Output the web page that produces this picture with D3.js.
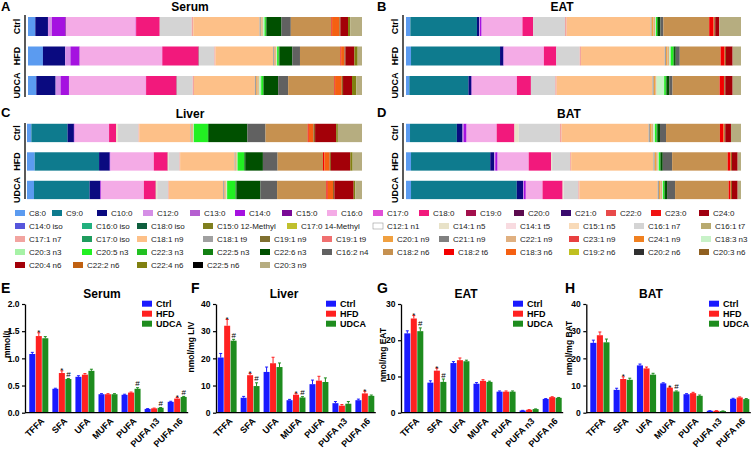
<!DOCTYPE html>
<html><head><meta charset="utf-8">
<script src="https://cdn.jsdelivr.net/npm/d3@7"></script>
<style>body{margin:0;background:#fff}svg{display:block}text{font-family:Arial,"Liberation Sans",sans-serif}</style>
</head><body><svg id="c" width="752" height="449"></svg>
<script>
// ---------------- DATA ----------------
const groups = ["Ctrl", "HFD", "UDCA"];
const faNames = [
 "C8:0","C9:0","C10:0","C12:0","C13:0","C14:0","C15:0","C16:0","C17:0","C18:0","C19:0","C20:0","C21:0","C22:0","C23:0","C24:0",
 "C14:0 iso","C16:0 iso","C18:0 iso","C15:0 12-Methyl","C17:0 14-Methyl","C12:1 n1","C14:1 n5","C14:1 t5","C15:1 n5","C16:1 n7","C16:1 t7",
 "C17:1 n7","C17:0 iso","C18:1 n9","C18:1 t9","C19:1 n9","C19:1 t9","C20:1 n9","C21:1 n9","C22:1 n9","C23:1 n9","C24:1 n9","C18:3 n3",
 "C20:3 n3","C20:5 n3","C22:3 n3","C22:5 n3","C22:6 n3","C16:2 n4","C18:2 n6","C18:2 t6","C18:3 n6","C19:2 n6","C20:2 n6","C20:3 n6",
 "C20:4 n6","C22:2 n6","C22:4 n6","C22:5 n6","C20:3 n9"
];
const faColors = [
 "#5b9bf0","#0e7b8e","#0a0a80","#d58fe6","#b55fd0","#a512e0","#7a0a96","#f4abe6","#e14fd6","#f2197c","#a3104c","#5c0b4e","#3a0b6e","#e84a4a","#f01212","#a00010",
 "#5656dc","#22b07e","#0f5f3e","#7f7f1e","#c0c02e","#ffffff","#e8e2c8","#f8dbe0","#f8dab8","#d4d4d4","#b8aa70",
 "#f2a4a0","#1f9c5e","#fdc088","#a0a0a0","#807030","#f07070","#f0a040","#808080","#e0b080","#e84040","#f08020","#c8f2c8",
 "#a6f2a6","#22f022","#22c022","#128012","#005000","#616161","#c69150","#f40000","#f56012","#c0c020","#303030","#906020",
 "#a30008","#c06010","#808010","#000000","#b6ad80"
];
// composition (% of total fatty acids), order = faNames
const compSerumCtrl = [2.2,0,3.8,1.2,0,4.0,0.2,20.9,0.2,7.1,0,0,0,0,0,0, 0,0,0,0,0,0,0,0,0,9.6,0, 0.5,0,19.9,0.4,0,0,0.2,0,0.4,0,0,0.5, 0,0.4,0,0.2,4.5,2.8,12.2,0.2,2.2,0,0,0.3, 2.3,0,0.7,0,3.5];
const compSerumHfd  = [4.5,0,6.7,1.6,0,2.7,0.1,24.8,0.1,10.8,0.2,0,0,0,0,0, 0,0,0,0,0,0,0,0,0,4.7,0, 0.3,0,17.4,0.4,0,0,0.2,0,0.4,0,0,0.2, 0,0.5,0,0.2,3.9,2.3,12.2,0.2,1.0,0,0,0.3, 2.7,0,1.0,0,1.3];
const compSerumUdca = [2.5,0,5.8,1.5,0,2.5,0.1,23.0,0.1,9.0,0.2,0,0,0,0,0, 0,0,0,0,0,0,0,0,0,4.8,0, 0.4,0,18.3,0.4,0,0,0.3,0,0.5,0,0,0.4, 0.3,0.6,0,0.2,4.3,3.0,13.9,0.2,2.0,0,0,0.4, 2.7,0,1.3,0,1.7];
const compEatCtrl   = [1.3,19.9,0.7,0.2,0,0.5,0,12.2,0,3.2,0,0,0,0,0,0, 0,0,0,0,0,0,0,0,0,9.5,0, 0.5,0,25.1,0.3,0,0,0.5,0,0.5,0,0,0.3, 0,0.3,0,0.2,0.8,0.9,13.7,1.3,0.2,0,0,0.3, 1.2,0,0,0,6.5];
const compEatHfd    = [1.5,26.6,1.0,0,0,0.1,0,12.0,0,3.7,0,0,0,0,0,0, 0,0,0,0,0,0,0,0,0,7.0,0, 0.4,0,25.0,0.4,0,0,0.4,0,0.5,0,0,0.5, 0,0.8,0,0.2,0.5,1.2,12.2,1.2,0.1,0,0,0.3, 2.0,0,0,0,2.5];
const compEatUdca   = [1.0,17.7,0.9,0,0,0.1,0,13.5,0,4.2,0,0,0,0,0,0, 0,0,0,0,0,0,0,0,0,7.3,0, 0.4,0,28.7,0.4,0,0,0.4,0,0.4,0,0,2.3, 0,0.5,0,0.2,0.8,1.0,14.1,1.3,0.1,0,0,0.3, 2.2,0,0,0,2.5];
const compLiverCtrl = [1.3,10.8,1.9,0,0,0.2,0,10.3,0,2.1,0,0,0,0,0,0, 0,0,0,0,0,0,0.5,0,0,6.2,0, 0.2,0,15.3,0.3,0,0,0.2,0,0.3,0,0,0.2, 0,4.2,0,0.3,11.5,5.4,12.6,0.3,1.4,0,0,0.5, 6.3,0,0.5,0,7.2];
const compLiverHfd  = [2.3,19.3,3.2,0,0,0.2,0,13.0,0,4.1,0.1,0,0,0,0,0, 0,0,0,0,0,0,0.3,0,0,3.2,0, 0.2,0,16.3,0.3,0,0,0.2,0,0.2,0,0,0.2, 0,2.0,0,0.3,5.3,4.4,13.6,0.4,1.6,0,0,0.4, 5.8,0,0.7,0,2.8];
const compLiverUdca = [2.1,16.7,3.2,0,0,0.2,0,12.9,0,3.5,0.1,0,0,0,0,0, 0,0,0,0,0,0,0.4,0,0,3.3,0, 0.2,0,16.3,0.4,0,0,0.3,0,0.3,0,0,0.2, 0,2.5,0,0.3,7.2,5.0,14.8,0.4,1.6,0,0,0.4, 5.8,0,0.5,0,2.0];
const compBatCtrl   = [1.2,14.0,1.7,0.3,0,0.9,0,9.0,0,5.3,0,0,0,0,0,0, 0,0,0,0,0,0,1.3,0,0,12.3,0, 0.5,0,26.0,0.4,0,0,0.5,0,0.5,0,0,0.5, 0,0.5,0,0.2,0.8,1.8,16.1,1.0,0.3,0,0,0.3, 1.7,0,0,0,3.0];
const compBatHfd    = [1.5,23.7,1.2,0.3,0,0.7,0,9.3,0,6.7,0,0,0,0,0,0, 0,0,0,0,0,0,0.3,0,0,5.4,0, 0.3,0,24.6,0.4,0,0,0.4,0,0.5,0,0,0.3, 0,0.4,0,0.2,0.6,2.8,16.6,0.8,0.2,0,0,0.3, 1.7,0,0,0,1.0];
const compBatUdca   = [1.5,31.6,1.9,0.2,0,0.6,0,5.0,0,6.0,0,0,0,0,0,0, 0,0,0,0,0,0,0.3,0,0,4.4,0, 0.3,0,23.4,0.4,0,0,0.4,0,0.5,0,0,0.3, 0,0.4,0,0.2,0.6,2.4,16.0,0.5,0.2,0,0,0.3, 1.7,0,0,0,1.0];

// concentrations by class
const classes = ["TFFA","SFA","UFA","MUFA","PUFA","PUFA n3","PUFA n6"];
const serumCtrl = [1.08,0.44,0.66,0.34,0.33,0.07,0.20];
const serumHfd  = [1.41,0.73,0.70,0.34,0.37,0.08,0.26];
const serumUdca = [1.37,0.62,0.77,0.34,0.44,0.09,0.29];
const serumCtrlErr = [0.03,0.01,0.02,0.01,0.01,0.005,0.01];
const serumHfdErr  = [0.06,0.04,0.02,0.01,0.01,0.005,0.02];
const serumUdcaErr = [0.03,0.01,0.03,0.01,0.02,0.005,0.01];
const serumHfdSig  = ["*","*","","","","","*"];
const serumUdcaSig = ["","#","","","#","#","#"];

const liverCtrl = [20.3,5.5,15.0,4.6,10.5,3.5,4.6];
const liverHfd  = [32.0,13.8,18.2,6.6,11.8,2.6,7.1];
const liverUdca = [26.5,9.8,16.8,5.6,11.3,3.3,6.2];
const liverCtrlErr = [1.5,0.5,1.8,0.3,1.5,0.6,0.4];
const liverHfdErr  = [2.3,0.6,2.2,0.4,1.6,0.4,0.8];
const liverUdcaErr = [0.5,1.2,1.5,0.3,1.5,0.8,0.3];
const liverHfdSig  = ["*","*","","*","","","*"];
const liverUdcaSig = ["#","#","","#","","",""];

const eatCtrl = [21.9,8.3,13.7,8.0,5.8,0.6,3.8];
const eatHfd  = [26.0,11.6,14.5,8.8,5.8,0.8,4.3];
const eatUdca = [22.5,8.5,14.2,8.5,5.8,1.0,4.1];
const eatCtrlErr = [0.7,0.5,0.4,0.3,0.2,0.05,0.1];
const eatHfdErr  = [0.8,0.7,0.6,0.3,0.2,0.05,0.1];
const eatUdcaErr = [0.9,0.8,0.3,0.2,0.2,0.05,0.1];
const eatHfdSig  = ["*","*","","","","",""];
const eatUdcaSig = ["#","#","","","","",""];

const batCtrl = [25.7,8.4,17.4,10.8,6.8,0.7,5.1];
const batHfd  = [28.5,12.4,16.3,9.2,7.2,0.7,5.6];
const batUdca = [25.9,12.1,14.0,7.8,6.2,0.6,5.0];
const batCtrlErr = [1.0,0.6,0.5,0.2,0.2,0.05,0.2];
const batHfdErr  = [1.2,0.8,0.5,0.2,0.3,0.05,0.2];
const batUdcaErr = [1.2,0.6,0.5,0.2,0.3,0.05,0.2];
const batHfdSig  = ["","*","","*","","",""];
const batUdcaSig = ["","","","#","","",""];

// ---------------- STYLE / LAYOUT ----------------
const barColors = ["#1a1aff","#ff2121","#1e8c1e"];
const svg = d3.select("#c");
const BOLD = 700;
const FONT = 'Arial,"Liberation Sans",sans-serif';

function label(x, y, txt, size, anchor) {
  svg.append("text").attr("x", x).attr("y", y).attr("font-size", size).attr("font-weight", BOLD)
    .attr("text-anchor", anchor || "start").attr("fill", "#000").text(txt);
}

// ---- stacked composition panels ----
function stackPanel(p, comps) {
  const rows = groups.map((g, i) => { const o = {group: g}; faNames.forEach((n, j) => o[n] = comps[i][j]); return o; });
  const series = d3.stack().keys(faNames).offset(d3.stackOffsetExpand)(rows);
  const x = d3.scaleLinear().domain([0, 1]).range([p.x0, p.x1]);
  const y = d3.scaleBand().domain(groups).range([p.y0, p.y1]).paddingInner(0.356).paddingOuter(0.178);
  const g = svg.append("g");
  g.selectAll("g.s").data(series).join("g").attr("fill", (d, i) => faColors[i])
    .selectAll("rect").data(d => d).join("rect")
    .attr("x", d => x(d[0])).attr("width", d => Math.max(0, x(d[1]) - x(d[0])))
    .attr("y", d => y(d.data.group)).attr("height", y.bandwidth());
  const ax = g.append("g").attr("transform", `translate(${p.ax},0)`)
    .call(d3.axisLeft(y).tickSize(0).tickSizeOuter(0));
  ax.select(".domain").remove();
  ax.append("line").attr("x1", 0).attr("x2", 0).attr("y1", p.ly0).attr("y2", p.ly1).attr("stroke", "#000").attr("stroke-width", 1.3);
  ax.selectAll(".tick text").attr("x", 0).attr("dy", 0).attr("text-anchor", "middle")
    .attr("transform", "translate(-5,0) rotate(-90)").attr("font-size", 9).attr("font-weight", BOLD)
    .attr("font-family", FONT).attr("fill", "#000");
  label(p.lx, p.ly, p.letter, 13);
  label(p.tx, p.ty, p.title, 12, "middle");
}

stackPanel({x0:28, x1:362, y0:11.75, y1:100.25, ax:25, ly0:15, ly1:97, letter:"A", lx:1, ly:11, title:"Serum", tx:190, ty:11},
  [compSerumCtrl, compSerumHfd, compSerumUdca]);
stackPanel({x0:406, x1:741, y0:11.75, y1:100.25, ax:403, ly0:15, ly1:97, letter:"B", lx:377, ly:11, title:"EAT", tx:562, ty:11},
  [compEatCtrl, compEatHfd, compEatUdca]);
stackPanel({x0:27, x1:362, y0:118.7, y1:204.2, ax:25, ly0:123, ly1:199, letter:"C", lx:1, ly:117, title:"Liver", tx:190, ty:118},
  [compLiverCtrl, compLiverHfd, compLiverUdca]);
stackPanel({x0:406, x1:741, y0:118.7, y1:204.2, ax:403, ly0:123, ly1:199, letter:"D", lx:377, ly:117, title:"BAT", tx:569, ty:118},
  [compBatCtrl, compBatHfd, compBatUdca]);

// ---- fatty acid legend ----
const legendCols = [
  [15,52,97,143,190,235,282,327,373,419,466,514,561,606,651,699],
  [15,82,137,203,287,373,439,506,569,634,701],
  [15,82,137,203,260,322,383,439,506,569,634,701],
  [15,82,137,203,260,322,383,444,506,569,634,699],
  [15,73,137,193,260]
];
const legendRowY = [213, 226, 239, 252, 265];
{
  let k = 0;
  const lg = svg.append("g");
  legendCols.forEach((cols, r) => cols.forEach(cx => {
    const i = k++;
    lg.append("rect").attr("x", cx).attr("y", legendRowY[r] - 3).attr("width", 10).attr("height", 6)
      .attr("fill", faColors[i]).attr("stroke", faColors[i] === "#ffffff" ? "#999" : "none").attr("stroke-width", 0.6);
    lg.append("text").attr("x", cx + 14).attr("y", legendRowY[r]).attr("dy", "0.35em")
      .attr("font-size", 8).attr("fill", "#222").text(faNames[i]);
  }));
}

// ---- class concentration bar panels ----
const PI = 0.176;
function barPanel(p) {
  const s = (p.le - p.fs) / (7 - PI);
  const x0 = d3.scaleBand().domain(classes).range([p.fs - PI * s / 2, p.le + PI * s / 2]).paddingInner(PI).paddingOuter(PI / 2);
  const x1 = d3.scaleBand().domain(groups).range([0, x0.bandwidth()]).paddingInner(0.07);
  const y = d3.scaleLinear().domain([0, p.max]).range([412.7, 304]);
  const g = svg.append("g");
  groups.forEach((grp, gi) => {
    const m = p.means[gi], e = p.errs[gi];
    const gg = g.append("g").attr("fill", barColors[gi]).attr("stroke", barColors[gi]);
    gg.selectAll("rect").data(classes).join("rect")
      .attr("stroke", "none")
      .attr("x", c => x0(c) + x1(grp)).attr("width", x1.bandwidth())
      .attr("y", (c, i) => y(m[i])).attr("height", (c, i) => y(0) - y(m[i]));
    gg.selectAll("line.e").data(classes).join("line").attr("class", "e")
      .attr("x1", c => x0(c) + x1(grp) + x1.bandwidth() / 2).attr("x2", c => x0(c) + x1(grp) + x1.bandwidth() / 2)
      .attr("y1", (c, i) => y(m[i])).attr("y2", (c, i) => y(m[i] + e[i])).attr("stroke-width", 1);
    gg.selectAll("line.c").data(classes).join("line").attr("class", "c")
      .attr("x1", c => x0(c) + x1(grp) + x1.bandwidth() / 2 - 1.5).attr("x2", c => x0(c) + x1(grp) + x1.bandwidth() / 2 + 1.5)
      .attr("y1", (c, i) => y(m[i] + e[i])).attr("y2", (c, i) => y(m[i] + e[i])).attr("stroke-width", 1);
    if (p.sigs[gi]) {
      g.append("g").selectAll("text").data(classes).join("text")
        .attr("x", c => x0(c) + x1(grp) + x1.bandwidth() / 2)
        .attr("y", (c, i) => y(m[i] + e[i]) - 1.5 + (p.sigs[gi][i] === "*" ? 4 : 0))
        .attr("text-anchor", "middle").attr("font-size", 8).attr("fill", "#000")
        .text((c, i) => p.sigs[gi][i]);
    }
  });
  // y axis
  const ya = g.append("g").attr("transform", `translate(${p.ax},0)`)
    .call(d3.axisLeft(y).tickValues(d3.range(0, p.max + p.step / 2, p.step)).tickSize(3).tickSizeOuter(0).tickPadding(2.5)
      .tickFormat(p.fmt));
  ya.select(".domain").attr("stroke-width", 1.3);
  ya.selectAll("line").attr("stroke-width", 1.2);
  ya.selectAll("text").attr("font-size", 8.5).attr("font-weight", BOLD).attr("fill", "#000").attr("font-family", FONT);
  // x axis
  const xa = g.append("g").attr("transform", `translate(0,${y(0)})`).call(d3.axisBottom(x0).tickSize(0));
  xa.select(".domain").remove();
  xa.append("line").attr("x1", p.ax).attr("x2", p.le + 1.5).attr("stroke", "#000").attr("stroke-width", 1.3);
  xa.selectAll(".tick text").attr("y", 0).attr("dy", 0).attr("text-anchor", "end")
    .attr("transform", "translate(6,9) rotate(-45)").attr("font-size", 9).attr("font-weight", BOLD).attr("fill", "#000")
    .attr("font-family", FONT);
  // y label
  svg.append("text").attr("transform", `translate(${p.ylx},${p.yly}) rotate(-90)`).attr("text-anchor", "middle")
    .attr("font-size", 8.5).attr("font-weight", BOLD).text(p.ylabel);
  // legend
  groups.forEach((grp, gi) => {
    svg.append("rect").attr("x", p.lgx).attr("y", 300.7 + gi * 10).attr("width", 10).attr("height", 6).attr("fill", barColors[gi]);
    svg.append("text").attr("x", p.lgx + 14).attr("y", 303.7 + gi * 10).attr("dy", "0.35em")
      .attr("font-size", 9).attr("font-weight", BOLD).text(grp);
  });
  label(p.lx, 293, p.letter, 14);
  label(p.tx, 298, p.title, 12, "middle");
}

barPanel({letter:"E", lx:1, title:"Serum", tx:102, ax:25, fs:29.3, le:186.7, max:2, step:0.5, fmt:d3.format(".1f"),
  ylabel:"mmol/L", ylx:10, yly:343, lgx:142,
  means:[serumCtrl, serumHfd, serumUdca], errs:[serumCtrlErr, serumHfdErr, serumUdcaErr], sigs:[null, serumHfdSig, serumUdcaSig]});
barPanel({letter:"F", lx:191, title:"Liver", tx:284, ax:216, fs:217.7, le:374.3, max:40, step:10, fmt:d3.format("d"),
  ylabel:"nmol/mg LIV", ylx:194, yly:347, lgx:326,
  means:[liverCtrl, liverHfd, liverUdca], errs:[liverCtrlErr, liverHfdErr, liverUdcaErr], sigs:[null, liverHfdSig, liverUdcaSig]});
barPanel({letter:"G", lx:377, title:"EAT", tx:466, ax:401, fs:404.3, le:561.7, max:30, step:10, fmt:d3.format("d"),
  ylabel:"nmol/mg EAT", ylx:386, yly:355, lgx:513,
  means:[eatCtrl, eatHfd, eatUdca], errs:[eatCtrlErr, eatHfdErr, eatUdcaErr], sigs:[null, eatHfdSig, eatUdcaSig]});
barPanel({letter:"H", lx:565, title:"BAT", tx:651, ax:586.3, fs:590.3, le:749.3, max:40, step:10, fmt:d3.format("d"),
  ylabel:"nmol/mg BAT", ylx:572, yly:348, lgx:709,
  means:[batCtrl, batHfd, batUdca], errs:[batCtrlErr, batHfdErr, batUdcaErr], sigs:[null, batHfdSig, batUdcaSig]});
</script></body></html>
